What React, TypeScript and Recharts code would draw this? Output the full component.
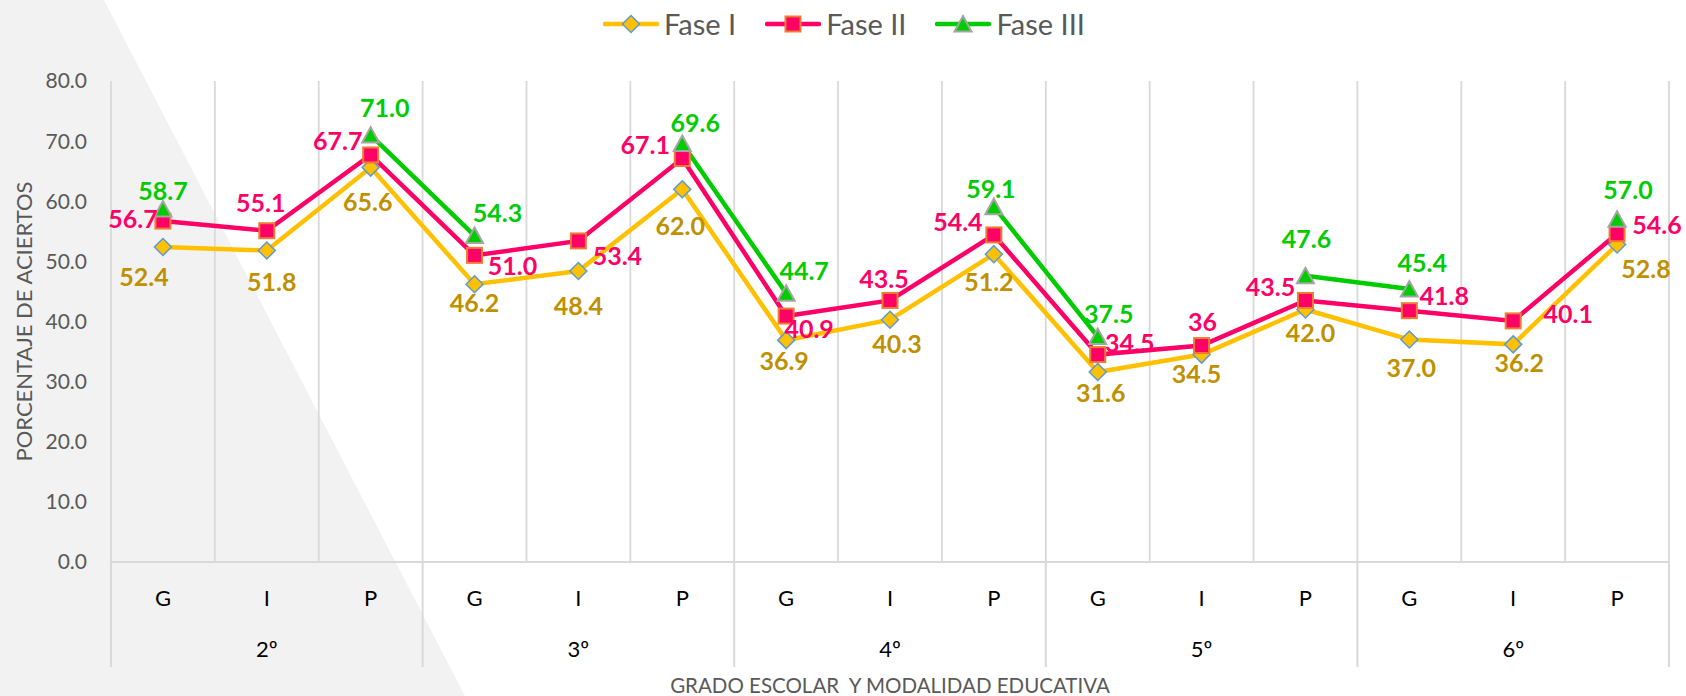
import { LineChart, Line, XAxis, YAxis, CartesianGrid } from 'recharts';

const modalidades = ['G', 'I', 'P', 'G', 'I', 'P', 'G', 'I', 'P', 'G', 'I', 'P', 'G', 'I', 'P'];
const grados = ['2º', '3º', '4º', '5º', '6º'];

// values as printed on the chart (Fase II 5º I shows "36")
const faseI = ['52.4', '51.8', '65.6', '46.2', '48.4', '62.0', '36.9', '40.3', '51.2', '31.6', '34.5', '42.0', '37.0', '36.2', '52.8'];
const faseII = ['56.7', '55.1', '67.7', '51.0', '53.4', '67.1', '40.9', '43.5', '54.4', '34.5', '36', '43.5', '41.8', '40.1', '54.6'];
const faseIII = ['58.7', null, '71.0', '54.3', null, '69.6', '44.7', null, '59.1', '37.5', null, '47.6', '45.4', null, '57.0'];

const yTicks = [0, 10, 20, 30, 40, 50, 60, 70, 80];

// label placement relative to its point [dx, dy]
const posI: [number, number][] = [
    [-19, 30], [5, 31], [-3, 34], [0, 19], [0, 35], [-2, 37], [-2, 21], [7, 24],
    [-5, 28], [3, 21], [-5, 19], [5, 24], [2, 28], [6, 19], [29, 24],
];
const posII: [number, number][] = [
    [-30, -2], [-6, -28], [-33, -14], [38, 11], [39, 15], [-37, -14], [23, 13], [-6, -21],
    [-36, -13], [32, -12], [1, -24], [-35, -13], [35, -15], [55, -7], [40, -9],
];
const posIII: [number, number][] = [
    [0, -18], [0, 0], [14, -27], [23, -23], [0, 0], [13, -21], [18, -22], [0, 0],
    [-3, -18], [11, -23], [0, 0], [1, -37], [13, -26], [0, 0], [11, -29],
];

const FONT = 'Lato, "Open Sans", sans-serif';
const CHART_W = 1686;
const CHART_H = 696;
const Y_W = 111;
const M_RIGHT = 17;
const PLOT_W = CHART_W - Y_W - M_RIGHT;
const CAT_H = 55;
const GRADO_H = 50;
const CAT_MARGIN = 28;
const GRID = '#D9D9D9';

const toNum = (s: string | null) => (s === null ? null : Number(s));

const data = modalidades.map((m, i) => ({
    idx: i,
    modalidad: m,
    f1: toNum(faseI[i]),
    f2: toNum(faseII[i]),
    f3: toNum(faseIII[i]),
}));

const catTicks = modalidades.map((_, i) => i);
const gridTicks = [...modalidades.map((_, i) => i - 0.5), modalidades.length - 0.5];
const gradoTicks = grados.map((_, g) => g * 3 + 1);
const xDomain = [-0.5, modalidades.length - 0.5];

type Shape = 'diamond' | 'square' | 'triangle';

const series = [
    { key: 'f1', name: 'Fase I', line: '#FFC000', text: '#BF9000', labels: faseI, pos: posI, shape: 'diamond' as Shape },
    { key: 'f2', name: 'Fase II', line: '#FF0066', text: '#FF0066', labels: faseII, pos: posII, shape: 'square' as Shape },
    { key: 'f3', name: 'Fase III', line: '#00CC00', text: '#00CC00', labels: faseIII, pos: posIII, shape: 'triangle' as Shape },
];

function Marker({ cx, cy, shape }: { cx: number; cy: number; shape: Shape }) {
    if (shape === 'diamond') {
        return (
            <polygon
                points={`${cx},${cy - 8.5} ${cx + 8.5},${cy} ${cx},${cy + 8.5} ${cx - 8.5},${cy}`}
                fill="#FFC000" stroke="#5B9BD5" strokeWidth={1.5}
            />
        );
    }
    if (shape === 'square') {
        return <rect x={cx - 7.5} y={cy - 7.5} width={15} height={15} fill="#FF0066" stroke="#ED7D31" strokeWidth={2} />;
    }
    return (
        <polygon
            points={`${cx},${cy - 8} ${cx + 8.5},${cy + 7.5} ${cx - 8.5},${cy + 7.5}`}
            fill="#00CC00" stroke="#A5A5A5" strokeWidth={2}
        />
    );
}

const makeDot = (shape: Shape) => (props: any) => {
    const { cx, cy, index, value } = props;
    if (value == null || cx == null || cy == null) return <g key={`d-${index}`} />;
    return (
        <g key={`d-${index}`}>
            <Marker cx={cx} cy={cy} shape={shape} />
        </g>
    );
};

const makeLabel = (texts: (string | null)[], pos: [number, number][], color: string) => (props: any) => {
    const index = props.index;
    const x = props.x ?? props.viewBox?.x;
    const y = props.y ?? props.viewBox?.y;
    const t = texts[index];
    if (t == null || x == null || y == null) return <g key={`l-${index}`} />;
    const [dx, dy] = pos[index];
    return (
        <text
            key={`l-${index}`}
            x={x + dx}
            y={y + dy}
            dy="0.36em"
            textAnchor="middle"
            fill={color}
            fontSize={25}
            fontWeight={700}
            fontFamily={FONT}
        >
            {t}
        </text>
    );
};

// category tick: letter plus the group separators hanging below the axis
function CatTick(props: any) {
    const { x, y, payload } = props;
    const v = payload.value as number;
    const band = PLOT_W / modalidades.length;
    const top = y - CAT_MARGIN;
    const sepLen = CAT_H + GRADO_H;
    return (
        <g>
            {v % 3 === 0 && (
                <line x1={x - band / 2} x2={x - band / 2} y1={top} y2={top + sepLen} stroke={GRID} strokeWidth={2} />
            )}
            {v === modalidades.length - 1 && (
                <line x1={x + band / 2} x2={x + band / 2} y1={top} y2={top + sepLen} stroke={GRID} strokeWidth={2} />
            )}
            <text x={x} y={y} dy="0.71em" textAnchor="middle" fill="#000" fontSize={22} fontFamily={FONT}>
                {modalidades[v]}
            </text>
        </g>
    );
}

function LegendIcon({ shape, color }: { shape: Shape; color: string }) {
    return (
        <svg width={56} height={30} style={{ display: 'block' }}>
            <line x1={2} y1={15} x2={54} y2={15} stroke={color} strokeWidth={4.5} strokeLinecap="round" />
            <Marker cx={28} cy={15} shape={shape} />
        </svg>
    );
}

export default function App() {
    return (
        <div style={{ position: 'absolute', left: 0, top: 0, width: CHART_W, height: CHART_H, background: '#fff', fontFamily: FONT, overflow: 'hidden' }}>
            <svg width={CHART_W} height={CHART_H} style={{ position: 'absolute', left: 0, top: 0 }}>
                <polygon points="0,0 104,0 465,696 0,696" fill="#F2F2F2" />
            </svg>
            <div style={{ position: 'absolute', left: 0, top: 0 }}>
                <LineChart width={CHART_W} height={CHART_H} data={data} margin={{ top: 81, right: M_RIGHT, bottom: 29, left: 0 }}>
                    <CartesianGrid xAxisId="grid" horizontal={false} stroke={GRID} strokeWidth={1.8} />
                    <XAxis xAxisId="grid" dataKey="idx" type="number" domain={xDomain} ticks={gridTicks} interval={0} hide />
                    <XAxis
                        xAxisId="cat" dataKey="idx" type="number" domain={xDomain} ticks={catTicks} interval={0}
                        height={CAT_H} axisLine={{ stroke: GRID, strokeWidth: 2 }} tickLine={false}
                        tickSize={0} tickMargin={CAT_MARGIN}
                        tick={<CatTick />}
                    />
                    <XAxis
                        xAxisId="grado" dataKey="idx" type="number" domain={xDomain} ticks={gradoTicks} interval={0}
                        height={GRADO_H} axisLine={false} tickLine={false} tickSize={0} tickMargin={24}
                        tickFormatter={(v: number) => grados[(v - 1) / 3] ?? ''}
                        tick={{ fill: '#000', fontSize: 22, fontFamily: FONT }}
                        label={{ value: 'GRADO ESCOLAR \u00A0Y MODALIDAD EDUCATIVA', position: 'bottom', offset: 11, fill: '#595959', fontSize: 20.5, fontFamily: FONT }}
                    />
                    <YAxis
                        domain={[0, 80]} ticks={yTicks} interval={0} width={Y_W}
                        axisLine={false} tickLine={false} tickSize={0} tickMargin={24}
                        tickFormatter={(v: number) => v.toFixed(1)}
                        tick={{ fill: '#595959', fontSize: 21, fontFamily: FONT }}
                        label={{ value: 'PORCENTAJE DE ACIERTOS', angle: -90, position: 'insideLeft', offset: 24, fill: '#595959', fontSize: 22, fontFamily: FONT, style: { textAnchor: 'middle' } }}
                    />
                    {series.map((s) => (
                        <Line
                            key={s.key}
                            xAxisId="cat"
                            type="linear"
                            dataKey={s.key}
                            name={s.name}
                            stroke={s.line}
                            strokeWidth={4.5}
                            dot={makeDot(s.shape)}
                            activeDot={false}
                            label={makeLabel(s.labels, s.pos, s.text)}
                            isAnimationActive={false}
                        />
                    ))}
                </LineChart>
            </div>
            <div style={{ position: 'absolute', left: 603, top: 9, display: 'flex', alignItems: 'center' }}>
                {series.map((s) => (
                    <div key={s.key} style={{ display: 'flex', alignItems: 'center', marginRight: 29 }}>
                        <LegendIcon shape={s.shape} color={s.line} />
                        <span style={{ marginLeft: 5, fontSize: 29, lineHeight: '30px', color: '#595959' }}>{s.name}</span>
                    </div>
                ))}
            </div>
        </div>
    );
}
